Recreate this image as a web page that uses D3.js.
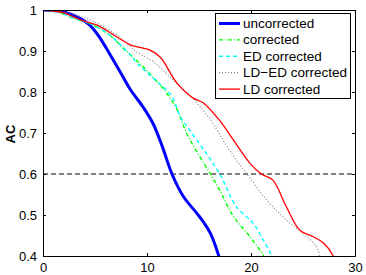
<!DOCTYPE html>
<html>
<head>
<meta charset="utf-8">
<script src="https://cdn.jsdelivr.net/npm/d3@7"></script>
<style>
  body { margin: 0; background: #fff; }
  text { font-family: "Liberation Sans", Arial, sans-serif; }
</style>
</head>
<body>
<svg id="chart" width="366" height="275"></svg>
<script>
'use strict';

// series (x, AC)
var uncorrected = [[0, 1], [2, 0.995], [3.5, 0.98], [4.5, 0.963], [5.5, 0.931], [6.5, 0.889], [7.4, 0.85],
    [8.4, 0.806], [9.6, 0.764], [10.6, 0.722], [11.5, 0.665], [12.4, 0.6], [13.5, 0.545],
    [14.8, 0.504], [15.4, 0.484], [16.1, 0.455], [16.9, 0.4], [17.1, 0.38]];
var corrected = [[0, 1], [1.5, 0.995], [2.9, 0.98], [4.5, 0.967], [6.4, 0.939], [7.7, 0.907], [9.2, 0.872],
    [10.5, 0.838], [11.9, 0.797], [12.9, 0.756], [13.8, 0.7], [14.9, 0.65], [16.1, 0.6],
    [17.0, 0.56], [18.3, 0.497], [19.9, 0.447], [21.2, 0.4], [21.4, 0.38]];
var edCorrected = [[0, 1], [1.5, 0.995], [2.9, 0.98], [4.5, 0.967], [6.4, 0.939], [8.4, 0.89], [9.0, 0.871],
    [10.6, 0.834], [12.4, 0.789], [13.2, 0.74], [14.1, 0.707], [15.7, 0.65], [17.0, 0.6],
    [18.6, 0.52], [20.2, 0.48], [21.0, 0.447], [22.0, 0.4], [22.3, 0.38]];
var ldEdCorrected = [[0, 1], [2, 0.995], [4.5, 0.976], [6.1, 0.955], [7.7, 0.927], [9.0, 0.898], [10.6, 0.874],
    [12.7, 0.825], [14.45, 0.783], [16.1, 0.732], [17.7, 0.667], [18.6, 0.634], [19.6, 0.6],
    [21.5, 0.537], [23.4, 0.488], [25.0, 0.455], [26.3, 0.423], [26.6, 0.4], [26.8, 0.38]];
var ldCorrected = [[0, 1], [2, 0.993], [3.6, 0.976], [5.2, 0.963], [6.8, 0.939], [8.4, 0.915], [9.3, 0.909],
    [10.3, 0.902], [11.3, 0.884], [12.9, 0.821], [14.45, 0.785], [15.4, 0.774], [17.0, 0.73],
    [18.3, 0.683], [19.9, 0.626], [21.0, 0.6], [22.1, 0.585], [23.4, 0.52], [24.7, 0.463],
    [26.0, 0.447], [27.0, 0.431], [27.9, 0.4], [28.1, 0.38]];

var seriesNames = ['uncorrected', 'corrected', 'ED corrected', 'LD\u2212ED corrected', 'LD corrected'];
var xTicks = [0, 10, 20, 30];
var yTicks = [0.4, 0.5, 0.6, 0.7, 0.8, 0.9, 1];
var threshold = 0.6;

var series = [
    {name: seriesNames[0], values: uncorrected, color: '#0000ff', width: 3, dash: null},
    {name: seriesNames[1], values: corrected, color: '#00ff00', width: 1.4, dash: '4,2,1,2'},
    {name: seriesNames[2], values: edCorrected, color: '#00ffff', width: 1.4, dash: '4,3'},
    {name: seriesNames[3], values: ldEdCorrected, color: '#808080', width: 1.2, dash: '1,2'},
    {name: seriesNames[4], values: ldCorrected, color: '#ff0000', width: 1.3, dash: null}
];

var svg = d3.select('#chart'),
    plotLeft = 43, plotRight = 355, plotTop = 10, plotBottom = 256;

var x = d3.scaleLinear().domain([0, 30]).range([plotLeft, plotRight]),
    y = d3.scaleLinear().domain([0.4, 1]).range([plotBottom, plotTop]);

svg.append('defs').append('clipPath').attr('id', 'plotclip')
    .append('rect')
        .attr('x', plotLeft).attr('y', plotTop)
        .attr('width', plotRight - plotLeft).attr('height', plotBottom - plotTop);

var line = d3.line()
    .x(function(d) { return x(d[0]); })
    .y(function(d) { return y(d[1]); })
    .curve(d3.curveCatmullRom.alpha(0.5));

var gLines = svg.append('g').attr('clip-path', 'url(#plotclip)');

// horizontal reference line
gLines.append('line')
    .attr('x1', plotLeft).attr('x2', plotRight)
    .attr('y1', y(threshold)).attr('y2', y(threshold))
    .attr('stroke', '#000').attr('stroke-width', 1)
    .attr('stroke-dasharray', '5,3');

series.forEach(function(s) {
    gLines.append('path')
        .datum(s.values)
        .attr('d', line)
        .attr('fill', 'none')
        .attr('stroke', s.color)
        .attr('stroke-width', s.width)
        .attr('stroke-dasharray', s.dash);
});

// axes box with inward ticks on all sides
var tickLen = 3;
var axisBottom = d3.axisBottom(x).tickValues(xTicks).tickSizeInner(-tickLen).tickSizeOuter(0).tickPadding(7),
    axisLeft = d3.axisLeft(y).tickValues(yTicks).tickSizeInner(-tickLen).tickSizeOuter(0).tickPadding(6)
        .tickFormat(function(d) { return d === 1 ? '1' : d3.format('.1f')(d); }),
    axisTop = d3.axisTop(x).tickValues(xTicks).tickSizeInner(-tickLen).tickSizeOuter(0).tickFormat(''),
    axisRight = d3.axisRight(y).tickValues(yTicks).tickSizeInner(-tickLen).tickSizeOuter(0).tickFormat('');

function styleAxis(g) {
    g.select('.domain').attr('stroke', '#000');
    g.selectAll('.tick line').attr('stroke', '#000');
    g.selectAll('.tick text')
        .attr('fill', '#000')
        .style('font-size', '13px');
}

svg.append('g').attr('transform', 'translate(0,' + plotBottom + ')').call(axisBottom).call(styleAxis);
svg.append('g').attr('transform', 'translate(' + plotLeft + ',0)').call(axisLeft).call(styleAxis);
svg.append('g').attr('transform', 'translate(0,' + plotTop + ')').call(axisTop).call(styleAxis);
svg.append('g').attr('transform', 'translate(' + plotRight + ',0)').call(axisRight).call(styleAxis);

// y label
svg.append('text')
    .attr('transform', 'translate(15,134) rotate(-90)')
    .attr('text-anchor', 'middle')
    .style('font-size', '13px')
    .style('font-weight', 'bold')
    .text('AC');

// legend
var legend = svg.append('g');
legend.append('rect')
    .attr('x', 215.5).attr('y', 13.5)
    .attr('width', 135).attr('height', 85)
    .attr('fill', '#fff')
    .attr('stroke', '#000').attr('stroke-width', 1);

var legendRow = legend.selectAll('g.row')
    .data(series)
    .enter().append('g')
        .attr('class', 'row')
        .attr('transform', function(d, i) { return 'translate(0,' + (23.5 + i * 16.4) + ')'; });

legendRow.append('line')
    .attr('x1', 219).attr('x2', 240)
    .attr('y1', 0).attr('y2', 0)
    .attr('stroke', function(d) { return d.color; })
    .attr('stroke-width', function(d) { return d.width; })
    .attr('stroke-dasharray', function(d) { return d.dash; });

legendRow.append('text')
    .attr('x', 243).attr('y', 4.5)
    .style('font-size', '13.5px')
    .text(function(d) { return d.name; });
</script>
</body>
</html>
